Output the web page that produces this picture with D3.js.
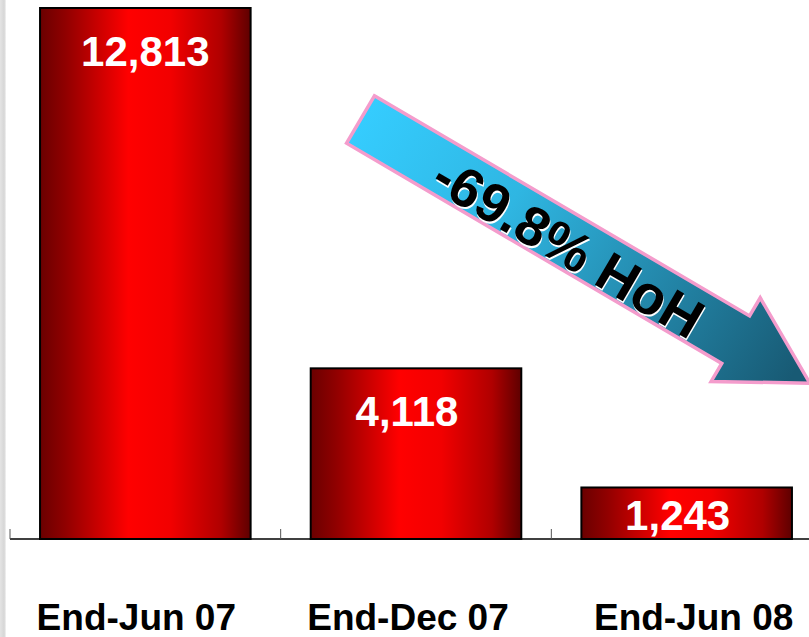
<!DOCTYPE html>
<html>
<head>
<meta charset="utf-8">
<script src="https://cdn.jsdelivr.net/npm/d3@7/dist/d3.min.js"></script>
<style>
  html, body { margin: 0; padding: 0; background: #fff; }
  svg { display: block; }
</style>
</head>
<body>
<svg id="chart" width="809" height="637"></svg>
<script>
// Half-yearly totals
const categories = ["End-Jun 07", "End-Dec 07", "End-Jun 08"];
const values = [12813, 4118, 1243];
const valueLabels = ["12,813", "4,118", "1,243"];
const changeLabel = "-69.8% HoH";

// layout: horizontal nudges for the text labels (px)
const valueNudge = [0, -9, -9];
const categoryNudge = [-9, -8, 7];

const W = 809, H = 637;
const baseY = 539;
const svg = d3.select("#chart");
const defs = svg.append("defs");

// horizontal red cylinder-like shading for bars
const barGrad = defs.append("linearGradient").attr("id", "barGrad")
  .attr("x1", "0%").attr("x2", "100%").attr("y1", "0%").attr("y2", "0%");
[[0, "#6a0000"], [0.12, "#900000"], [0.42, "#ff0000"], [0.62, "#f20000"], [0.86, "#b00000"], [1, "#5e0000"]]
  .forEach(([o, c]) => barGrad.append("stop").attr("offset", o).attr("stop-color", c));

// arrow gradient: light cyan to dark teal
const arrGrad = defs.append("linearGradient").attr("id", "arrGrad")
  .attr("gradientUnits", "userSpaceOnUse")
  .attr("x1", 360).attr("y1", 110).attr("x2", 790).attr("y2", 380);
arrGrad.append("stop").attr("offset", 0).attr("stop-color", "#35cdff");
arrGrad.append("stop").attr("offset", 0.35).attr("stop-color", "#2fb6e2");
arrGrad.append("stop").attr("offset", 1).attr("stop-color", "#185a74");

// grey strip at left edge
const stripGrad = defs.append("linearGradient").attr("id", "stripGrad")
  .attr("x1", "0%").attr("x2", "100%");
stripGrad.append("stop").attr("offset", 0).attr("stop-color", "#e4e4e4");
stripGrad.append("stop").attr("offset", 0.7).attr("stop-color", "#d6d6d6");
stripGrad.append("stop").attr("offset", 1).attr("stop-color", "#f4f4f4");
svg.append("rect").attr("x", 0).attr("y", 0).attr("width", 6).attr("height", H)
  .attr("fill", "url(#stripGrad)");

// scales
const x = d3.scaleBand().domain(categories).range([10, 822])
  .paddingInner(0.222).paddingOuter(0.111);
const y = d3.scaleLinear().domain([0, 12813]).range([baseY, 8]);
const gap = x.step() * x.paddingInner();

// bars
svg.append("g").selectAll("rect").data(values).join("rect")
  .attr("x", (d, i) => x(categories[i]))
  .attr("y", d => y(d))
  .attr("width", x.bandwidth())
  .attr("height", d => baseY - y(d))
  .attr("fill", "url(#barGrad)")
  .attr("stroke", "#000")
  .attr("stroke-width", 2);

// value labels inside bars
svg.append("g").selectAll("text").data(values).join("text")
  .attr("x", (d, i) => x(categories[i]) + x.bandwidth() / 2 + valueNudge[i])
  .attr("y", d => Math.min(y(d) + 58, baseY - 9))
  .attr("text-anchor", "middle")
  .attr("font-family", "Liberation Sans, Arial, sans-serif")
  .attr("font-weight", "bold")
  .attr("font-size", 42)
  .attr("fill", "#fff")
  .text((d, i) => valueLabels[i]);

// category axis: baseline with ticks at band boundaries
const axis = svg.append("g");
axis.append("line").attr("x1", 10).attr("x2", W).attr("y1", baseY).attr("y2", baseY)
  .attr("stroke", "#000").attr("stroke-width", 1.5);
const tickXs = [10].concat(categories.slice(1).map(c => x(c) - gap / 2));
axis.selectAll("line.tick").data(tickXs).join("line").attr("class", "tick")
  .attr("x1", d => d).attr("x2", d => d).attr("y1", baseY - 10).attr("y2", baseY)
  .attr("stroke", "#555").attr("stroke-width", 1);

axis.selectAll("text").data(categories).join("text")
  .attr("x", (d, i) => x(d) + x.bandwidth() / 2 + categoryNudge[i])
  .attr("y", 630)
  .attr("text-anchor", "middle")
  .attr("font-family", "Liberation Sans, Arial, sans-serif")
  .attr("font-weight", "bold")
  .attr("font-size", 37)
  .attr("fill", "#000")
  .text(d => d);

// downward arrow annotation
const tail = [360.5, 119.5];
const ang = Math.atan2(0.507, 0.864);
const ux = Math.cos(ang), uy = Math.sin(ang);
const nx = -uy, ny = ux;
const shaftHalf = 27.5, headHalf = 48.5, shaftLen = 435, headLen = 86;
const P = (s, t) => [tail[0] + ux * s + nx * t, tail[1] + uy * s + ny * t];
const arrowPts = [
  P(0, -shaftHalf), P(shaftLen, -shaftHalf), P(shaftLen, -headHalf),
  P(shaftLen + headLen, 0),
  P(shaftLen, headHalf), P(shaftLen, shaftHalf), P(0, shaftHalf)
];
svg.append("polygon")
  .attr("points", arrowPts.map(p => p.join(",")).join(" "))
  .attr("fill", "url(#arrGrad)")
  .attr("stroke", "#f49ccc")
  .attr("stroke-width", 3.5)
  .attr("stroke-linejoin", "miter");

const mid = P(244, 5);
const deg = ang * 180 / Math.PI;
const tg = svg.append("g").attr("transform", `translate(${mid[0]},${mid[1]}) rotate(${deg})`);
tg.append("text").attr("x", 1.5).attr("y", 1.5)
  .attr("text-anchor", "middle").attr("dominant-baseline", "central")
  .attr("font-family", "Liberation Sans, Arial, sans-serif")
  .attr("font-weight", "bold").attr("font-size", 55)
  .attr("fill", "#fff").text(changeLabel);
tg.append("text")
  .attr("text-anchor", "middle").attr("dominant-baseline", "central")
  .attr("font-family", "Liberation Sans, Arial, sans-serif")
  .attr("font-weight", "bold").attr("font-size", 55)
  .attr("fill", "#000").text(changeLabel);
</script>
</body>
</html>
